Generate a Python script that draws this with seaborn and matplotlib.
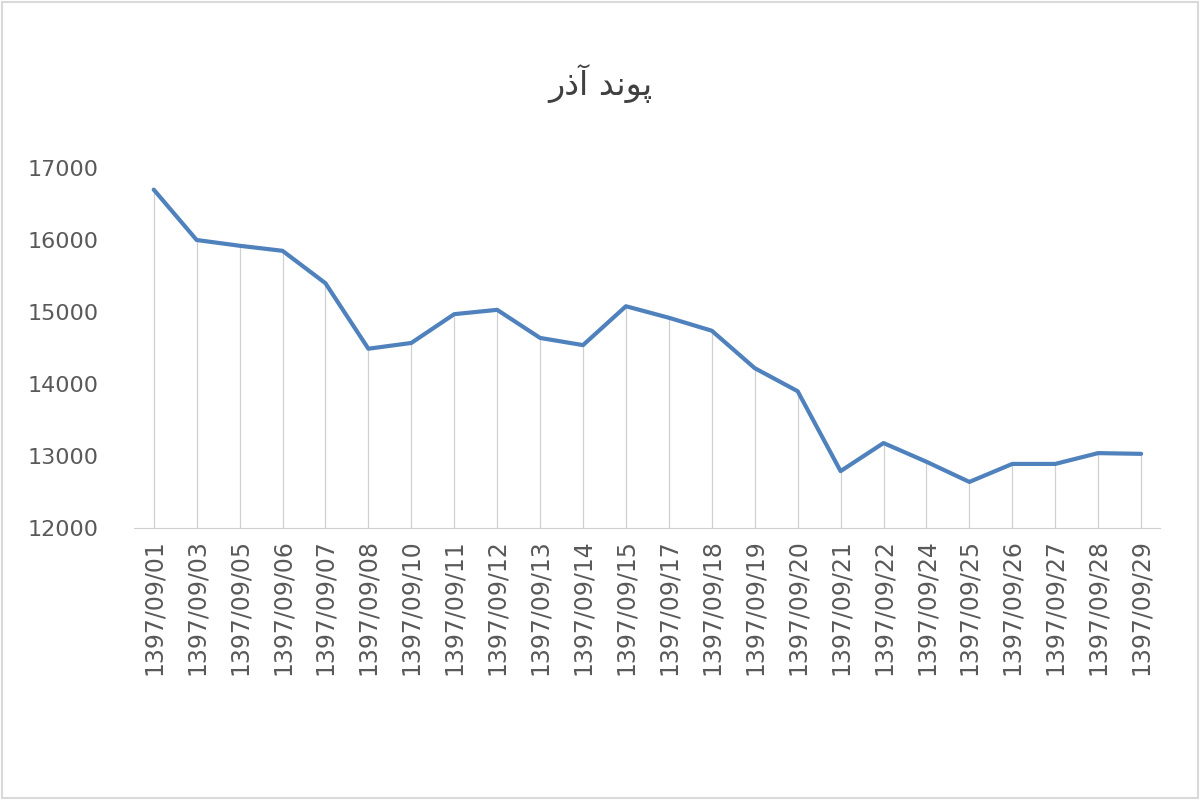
import matplotlib
matplotlib.use("Agg")
import matplotlib.pyplot as plt
import seaborn as sns
import pandas as pd

days = ["01", "03", "05", "06", "07", "08", "10", "11", "12", "13", "14", "15",
        "17", "18", "19", "20", "21", "22", "24", "25", "26", "27", "28", "29"]
dates = ["1397/09/" + d for d in days]
prices = [16700, 16000, 15920, 15850, 15400, 14490, 14570, 14970, 15030, 14640,
          14540, 15080, 14920, 14740, 14220, 13900, 12790, 13180, 12920, 12640,
          12890, 12890, 13040, 13030]

# title "پوند آذر" pre-shaped in visual order
title = "\uFEAD\uFEAB\uFE81 \uFEAA\uFEE7\uFEEE\uFB58"

df = pd.DataFrame({"date": dates, "price": prices, "pos": range(len(dates))})

sns.set_style("white")
plt.rcParams["font.family"] = ["DejaVu Sans"]

fig = plt.figure(figsize=(12, 8), dpi=100)
ax = fig.add_axes([0.112, 0.34, 0.855, 0.45])

ax.vlines(df["pos"], 12000, df["price"], color="#d0d0d0", linewidth=0.9, zorder=1)
sns.lineplot(data=df, x="pos", y="price", ax=ax, color="#4f81bd", linewidth=3, zorder=3)

ax.set_xlim(-0.45, len(dates) - 0.55)
ax.set_ylim(12000, 17000)
ax.set_yticks(range(12000, 17001, 1000))
ax.set_xticks(df["pos"])
ax.set_xticklabels(dates, rotation=90, fontsize=17, color="#595959")
ax.tick_params(axis="y", labelsize=16, labelcolor="#595959", length=0, pad=26)
ax.tick_params(axis="x", length=0, pad=8)
ax.set_xlabel("")
ax.set_ylabel("")
for s in ["top", "right", "left"]:
    ax.spines[s].set_visible(False)
ax.spines["bottom"].set_color("#d0d0d0")

fig.text(0.5, 0.895, title, ha="center", va="center", fontsize=24, color="#404040")
fig.patches.append(plt.Rectangle((0.002, 0.002), 0.996, 0.996, transform=fig.transFigure,
                                 fill=False, edgecolor="#d9d9d9", linewidth=1.5))

fig.savefig("out.png", dpi=100)
